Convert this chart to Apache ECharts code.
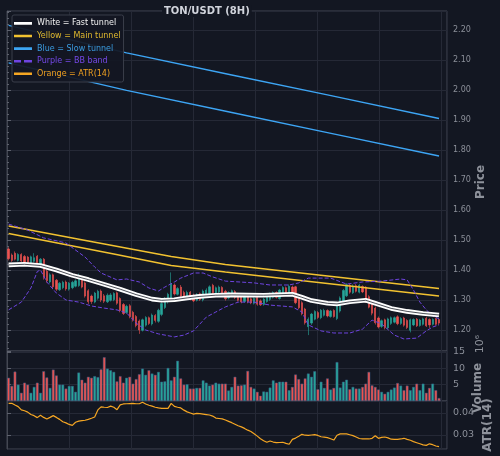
<!DOCTYPE html>
<html><head><meta charset="utf-8">
<script src="https://cdn.jsdelivr.net/npm/echarts/dist/echarts.min.js"></script>
<style>html,body{margin:0;padding:0;background:#131722;}#c{width:500px;height:456px;}</style>
</head><body><div id="c"></div>
<script>
// ---- data ----
const opens=[1.470,1.450,1.456,1.432,1.452,1.445,1.443,1.422,1.429,1.446,
1.418,1.436,1.396,1.360,1.384,1.366,1.334,1.341,1.360,1.336,
1.341,1.346,1.348,1.370,1.357,1.331,1.313,1.293,1.306,1.330,
1.314,1.294,1.299,1.301,1.324,1.305,1.285,1.258,1.281,1.259,
1.245,1.230,1.199,1.216,1.241,1.220,1.248,1.229,1.252,1.275,
1.294,1.301,1.350,1.319,1.343,1.325,1.307,1.326,1.315,1.299,
1.321,1.300,1.315,1.321,1.349,1.322,1.327,1.342,1.329,1.307,
1.315,1.328,1.318,1.311,1.295,1.313,1.304,1.289,1.309,1.297,
1.285,1.295,1.302,1.309,1.325,1.305,1.318,1.341,1.324,1.343,
1.344,1.311,1.291,1.270,1.211,1.223,1.236,1.258,1.241,1.249,
1.265,1.245,1.265,1.238,1.263,1.291,1.314,1.349,1.324,1.348,
1.326,1.345,1.343,1.311,1.291,1.273,1.240,1.212,1.234,1.207,
1.222,1.226,1.244,1.222,1.240,1.232,1.199,1.217,1.236,1.215,
1.219,1.239,1.235,1.219,1.238,1.235];
const closes=[1.438,1.432,1.436,1.452,1.430,1.426,1.424,1.444,1.441,1.424,
1.436,1.376,1.364,1.384,1.344,1.336,1.356,1.359,1.337,1.356,
1.359,1.364,1.372,1.343,1.313,1.294,1.295,1.323,1.329,1.300,
1.296,1.316,1.317,1.322,1.289,1.265,1.255,1.279,1.244,1.234,
1.215,1.200,1.234,1.242,1.222,1.250,1.232,1.266,1.288,1.305,
1.319,1.354,1.320,1.338,1.313,1.307,1.325,1.304,1.297,1.318,
1.302,1.330,1.333,1.344,1.324,1.341,1.343,1.318,1.304,1.325,
1.331,1.309,1.299,1.293,1.311,1.295,1.290,1.305,1.286,1.284,
1.303,1.313,1.321,1.325,1.309,1.333,1.342,1.325,1.346,1.327,
1.291,1.274,1.254,1.224,1.236,1.253,1.262,1.242,1.266,1.265,
1.247,1.263,1.245,1.279,1.307,1.332,1.351,1.326,1.346,1.329,
1.349,1.327,1.294,1.276,1.256,1.224,1.210,1.231,1.208,1.237,
1.241,1.241,1.221,1.238,1.216,1.208,1.234,1.235,1.214,1.233,
1.237,1.214,1.217,1.235,1.219,1.223];
const lows=[1.432,1.427,1.432,1.428,1.426,1.421,1.419,1.419,1.425,1.419,
1.414,1.368,1.358,1.355,1.336,1.330,1.330,1.336,1.331,1.331,
1.336,1.342,1.344,1.339,1.308,1.287,1.287,1.289,1.301,1.293,
1.290,1.290,1.295,1.296,1.284,1.259,1.250,1.254,1.239,1.228,
1.209,1.187,1.195,1.211,1.217,1.215,1.225,1.224,1.246,1.270,
1.288,1.296,1.315,1.315,1.307,1.302,1.303,1.299,1.293,1.295,
1.297,1.295,1.311,1.316,1.318,1.317,1.323,1.314,1.298,1.302,
1.311,1.303,1.295,1.289,1.291,1.289,1.286,1.285,1.281,1.280,
1.281,1.291,1.297,1.305,1.305,1.301,1.314,1.319,1.320,1.323,
1.286,1.269,1.249,1.218,1.183,1.217,1.232,1.237,1.236,1.245,
1.242,1.241,1.241,1.233,1.258,1.287,1.310,1.321,1.320,1.325,
1.322,1.323,1.290,1.272,1.249,1.218,1.205,1.207,1.202,1.203,
1.217,1.222,1.216,1.217,1.211,1.203,1.192,1.213,1.210,1.211,
1.215,1.210,1.207,1.215,1.215,1.217];
const highs=[1.476,1.455,1.462,1.456,1.456,1.450,1.447,1.448,1.456,1.450,
1.440,1.440,1.402,1.389,1.388,1.370,1.360,1.364,1.365,1.360,
1.364,1.369,1.388,1.375,1.362,1.336,1.318,1.327,1.334,1.335,
1.320,1.322,1.323,1.326,1.328,1.309,1.290,1.284,1.286,1.264,
1.250,1.235,1.238,1.246,1.245,1.255,1.253,1.271,1.292,1.310,
1.324,1.392,1.355,1.343,1.350,1.331,1.331,1.330,1.321,1.323,
1.325,1.335,1.339,1.349,1.354,1.345,1.348,1.346,1.334,1.329,
1.335,1.333,1.323,1.315,1.315,1.317,1.308,1.309,1.312,1.302,
1.307,1.317,1.325,1.329,1.329,1.337,1.346,1.345,1.352,1.348,
1.347,1.316,1.296,1.274,1.242,1.257,1.266,1.263,1.270,1.271,
1.269,1.267,1.269,1.283,1.312,1.337,1.356,1.354,1.352,1.353,
1.354,1.349,1.346,1.316,1.296,1.278,1.245,1.235,1.238,1.241,
1.245,1.245,1.249,1.243,1.244,1.236,1.238,1.239,1.240,1.237,
1.241,1.244,1.239,1.239,1.241,1.239];
// volume in millions (axis shows x10^6)
const volume=[7.1,4.6,9.0,5.0,2.5,5.6,5.0,2.5,4.3,5.6,
2.5,9.1,7.2,4.0,9.6,7.8,5.0,5.0,3.8,4.6,
4.6,2.8,8.7,6.5,5.6,7.4,7.1,7.6,7.3,9.7,
13.4,9.9,9.4,8.9,6.0,7.6,5.6,7.1,7.4,5.3,
6.7,8.2,9.9,8.0,9.4,8.4,8.0,8.9,5.9,6.0,
10.1,6.3,7.4,12.3,6.9,5.0,5.1,3.8,3.8,4.0,
4.0,6.3,5.6,4.7,5.0,5.6,5.3,5.3,5.3,3.2,
4.3,7.4,4.7,4.8,5.0,9.2,4.3,3.8,2.8,1.6,
2.9,2.8,4.1,6.3,5.6,5.9,5.9,5.9,3.3,4.3,
8.1,6.7,5.3,6.9,8.4,7.4,9.1,3.6,5.9,4.0,
6.9,3.5,4.0,11.9,4.1,5.9,6.5,3.6,4.3,3.8,
3.8,4.3,5.3,8.9,4.8,4.3,3.5,2.8,2.2,2.8,
3.5,4.1,5.5,4.7,3.3,4.7,3.3,4.3,5.3,3.3,
5.3,2.5,4.0,5.3,3.3,0.9];
const atr=[0.0444,0.0444,0.0436,0.0429,0.0414,0.041,0.0404,0.0393,0.0388,0.0379,
0.039,0.038,0.0373,0.038,0.0388,0.038,0.0371,0.036,0.0355,0.0348,
0.0344,0.0358,0.0363,0.0365,0.0367,0.0371,0.0376,0.0382,0.0414,0.0428,
0.0426,0.0425,0.0431,0.0426,0.0415,0.0437,0.0441,0.0442,0.0443,0.0444,
0.0442,0.0442,0.0449,0.0441,0.0435,0.0431,0.0426,0.0423,0.0421,0.0421,
0.0421,0.0444,0.043,0.0426,0.0423,0.0413,0.0405,0.04,0.0395,0.0398,
0.0397,0.0395,0.0393,0.0391,0.0386,0.0377,0.0375,0.0373,0.0368,0.0362,
0.0356,0.0349,0.0342,0.0337,0.033,0.0322,0.0316,0.0306,0.0295,0.0283,
0.0274,0.0267,0.0273,0.0268,0.0265,0.0266,0.0267,0.0262,0.0258,0.028,
0.0286,0.0294,0.0303,0.0299,0.0298,0.03,0.0302,0.0298,0.0292,0.029,
0.0288,0.0283,0.0277,0.0299,0.0305,0.0305,0.0305,0.0301,0.0297,0.0291,
0.0284,0.0282,0.0282,0.0282,0.0285,0.0297,0.0285,0.0289,0.0291,0.0287,
0.0281,0.028,0.028,0.0282,0.0285,0.028,0.0276,0.027,0.0265,0.026,
0.0255,0.0253,0.026,0.0256,0.025,0.0247];
// overlay lines: [candle index, price]
const whiteTunnel=[[0,1.417],[5,1.419],[10,1.415],[15,1.4],[20,1.382],[25,1.368],[30,1.352],[35,1.336],[40,1.318],[45,1.303],[48,1.299],[52,1.301],[56,1.307],[60,1.312],[65,1.316],[70,1.317],[80,1.316],[89,1.319],[92,1.309],[95,1.298],[100,1.289],[103,1.287],[107,1.294],[112,1.299],[115,1.289],[120,1.272],[125,1.262],[130,1.255],[135,1.25]];
const yellowUpper=[[0,1.547],[25,1.497],[51,1.445],[68,1.418],[100,1.38],[135,1.338]];
const yellowLower=[[0,1.522],[33,1.453],[51,1.415],[68,1.393],[100,1.355],[135,1.313]];
const blueUpper=[[0,2.215],[37,2.124],[70,2.05],[100,1.984],[135,1.905]];
const blueLower=[[0,2.09],[37,1.999],[70,1.925],[100,1.858],[135,1.78]];
const bbUpper=[[0,1.553],[6,1.533],[11,1.507],[18,1.49],[24,1.443],[27,1.41],[29,1.39],[34,1.367],[37,1.37],[41,1.36],[44,1.34],[47,1.33],[49,1.343],[52,1.36],[54,1.373],[58,1.39],[61,1.39],[64,1.377],[68,1.363],[77,1.357],[82,1.35],[88,1.35],[91,1.357],[94,1.373],[97,1.373],[101,1.373],[106,1.353],[111,1.36],[117,1.363],[123,1.37],[125,1.367],[127,1.333],[129,1.293],[131,1.267],[133,1.247],[135,1.237]];
const bbLower=[[0,1.267],[4,1.293],[7,1.34],[9,1.395],[10,1.4],[12,1.36],[15,1.323],[18,1.3],[22,1.293],[26,1.28],[30,1.273],[34,1.267],[37,1.257],[40,1.223],[43,1.2],[47,1.187],[52,1.177],[55,1.183],[58,1.197],[60,1.22],[62,1.243],[65,1.26],[68,1.277],[72,1.293],[77,1.293],[82,1.283],[89,1.277],[92,1.26],[94,1.217],[98,1.197],[102,1.19],[107,1.19],[111,1.203],[114,1.233],[117,1.22],[121,1.183],[124,1.17],[128,1.173],[131,1.197],[133,1.21],[135,1.217]];
const categories=Array.from({length:138},(_,i)=>String(i));
const legendNames=['White = Fast tunnel','Yellow = Main tunnel','Blue = Slow tunnel','Purple = BB band','Orange = ATR(14)'];

// ---- style ----
const BG='#131722', UP='#26a69a', DOWN='#ef5350', GRID='#252936', BORDER='#434752', LBL='#8b8f99', NAME='#8e929b';
const WHITE='#ffffff', YEL='#f2c230', BLUE='#3da5f4', PURP='#6e44e0', ORG='#f5a623';
const FF='DejaVu Sans';
const ICON_SOLID='path://M0,0h0.01v0.01h-0.01zM0,3.8h18v2.6h-18zM0,10h0.01v0.01h-0.01z';
const ICON_DASH='path://M0,0h0.01v0.01h-0.01zM0,3.8h7v2.6h-7zM10,3.8h8v2.6h-8zM0,10h0.01v0.01h-0.01z';

const candles=opens.map((o,i)=>[o,closes[i],lows[i],highs[i]]);
const volData=volume.map((v,i)=>({value:v,itemStyle:{color:closes[i]>=opens[i]?UP:DOWN}}));

const gridBase={left:7,width:440,show:true,borderColor:BORDER,borderWidth:1,backgroundColor:BG};
const catAxis=g=>({type:'category',gridIndex:g,data:categories,show:false,boundaryGap:true});
const vAxis=g=>({type:'value',gridIndex:g,min:0,max:440,interval:62,axisLine:{show:false},axisTick:{show:false},axisLabel:{show:false},splitLine:{show:true,lineStyle:{color:GRID,width:1}}});
const yCommon={position:'right',axisLine:{show:true,lineStyle:{color:BORDER}},axisTick:{show:true,length:4,lineStyle:{color:'#5d616d'}},splitLine:{show:true,lineStyle:{color:GRID}}};
const line=(name,data,color,width,extra)=>Object.assign({type:'line',name,data,xAxisIndex:0,yAxisIndex:0,symbol:'none',showSymbol:false,silent:true,lineStyle:{color,width},itemStyle:{color},z:4,animation:false},extra||{});

const chart=echarts.init(document.getElementById('c'),null,{renderer:'canvas'});
chart.setOption({
  backgroundColor:BG,
  animation:false,
  title:{text:'TON/USDT (8H)',left:162,top:5,padding:[1,2],backgroundColor:BG,textStyle:{color:'#d1d4dc',fontSize:10,fontWeight:'bold',fontFamily:FF},z:10},
  legend:{orient:'vertical',left:12,top:15,padding:[3.3,3,3.3,2],itemWidth:18,itemHeight:10,itemGap:2.6,
    backgroundColor:'rgba(19,23,34,0.93)',borderColor:'#3a3e4a',borderWidth:1,borderRadius:2,selectedMode:false,
    textStyle:{fontSize:8,fontFamily:FF,lineHeight:10},z:10,
    data:[
      {name:legendNames[0],icon:ICON_SOLID,itemStyle:{color:WHITE},textStyle:{color:'#f2f2f2'}},
      {name:legendNames[1],icon:ICON_SOLID,itemStyle:{color:YEL},textStyle:{color:'#e0b92e'}},
      {name:legendNames[2],icon:ICON_SOLID,itemStyle:{color:BLUE},textStyle:{color:'#3a9be0'}},
      {name:legendNames[3],icon:ICON_DASH,itemStyle:{color:PURP},textStyle:{color:'#7548e8'}},
      {name:legendNames[4],icon:ICON_SOLID,itemStyle:{color:ORG},textStyle:{color:'#f0a020'}}]},
  grid:[Object.assign({top:11,height:340},gridBase),Object.assign({top:351,height:50},gridBase),Object.assign({top:401,height:48},gridBase)],
  xAxis:[catAxis(0),catAxis(1),catAxis(2),vAxis(0),vAxis(1),vAxis(2)],
  yAxis:[
    Object.assign({type:'value',gridIndex:0,min:1.13,max:2.2633,splitNumber:11,
      minorTick:{show:true,splitNumber:5,length:2,lineStyle:{color:'#5d616d'}},
      axisLabel:{color:LBL,fontSize:8,fontFamily:FF,margin:6,formatter:v=>v.toFixed(2),showMinLabel:false,showMaxLabel:false}},yCommon),
    Object.assign({type:'value',gridIndex:1,min:0,max:15.3,interval:5,
      axisLabel:{color:LBL,fontSize:9.5,fontFamily:FF,margin:6,formatter:v=>String(Math.round(v)),showMinLabel:false,showMaxLabel:false}},yCommon),
    Object.assign({type:'value',gridIndex:2,min:0.02364,max:0.04545,splitNumber:2,
      axisLabel:{color:LBL,fontSize:9.5,fontFamily:FF,margin:6,formatter:v=>v.toFixed(2),showMinLabel:false,showMaxLabel:false}},yCommon)
  ],
  series:[
    {type:'candlestick',name:'price',data:candles,xAxisIndex:0,yAxisIndex:0,barWidth:1.8,silent:true,z:2,
      itemStyle:{color:UP,color0:DOWN,borderColor:UP,borderColor0:DOWN,borderWidth:0.6}},
    line(legendNames[2],blueUpper,BLUE,1.3),
    line(legendNames[2],blueLower,BLUE,1.3),
    line(legendNames[1],yellowUpper,YEL,1.5),
    line(legendNames[1],yellowLower,YEL,1.5),
    line(legendNames[3],bbUpper,PURP,1,{lineStyle:{color:PURP,width:1,type:'dashed'}}),
    line(legendNames[3],bbLower,PURP,1,{lineStyle:{color:PURP,width:1,type:'dashed'}}),
    line(legendNames[0],whiteTunnel,WHITE,4.6,{z:5}),
    line('fastInner',whiteTunnel,BG,0.9,{z:6,lineStyle:{color:BG,width:0.9,opacity:0.85}}),
    {type:'bar',name:'volume',data:volData,xAxisIndex:1,yAxisIndex:1,barCategoryGap:'15%',silent:true,
      itemStyle:{borderColor:'#3b5b85',borderWidth:0.5}},
    line(legendNames[4],atr,ORG,1.2,{xAxisIndex:2,yAxisIndex:2})
  ],
  graphic:[
    {type:'text',x:481,y:182,rotation:Math.PI/2,z:20,style:{text:'Price',fill:NAME,font:'bold 12px "DejaVu Sans"',align:'center',verticalAlign:'middle'}},
    {type:'text',x:480,y:344,rotation:Math.PI/2,z:20,style:{text:'10\u2076',fill:NAME,font:'11px "DejaVu Sans"',align:'center',verticalAlign:'middle'}},
    {type:'text',x:478,y:388,rotation:Math.PI/2,z:20,style:{text:'Volume',fill:NAME,font:'bold 12px "DejaVu Sans"',align:'center',verticalAlign:'middle'}},
    {type:'text',x:488,y:425,rotation:Math.PI/2,z:20,style:{text:'ATR(14)',fill:NAME,font:'bold 12px "DejaVu Sans"',align:'center',verticalAlign:'middle'}}
  ]
});
</script></body></html>
